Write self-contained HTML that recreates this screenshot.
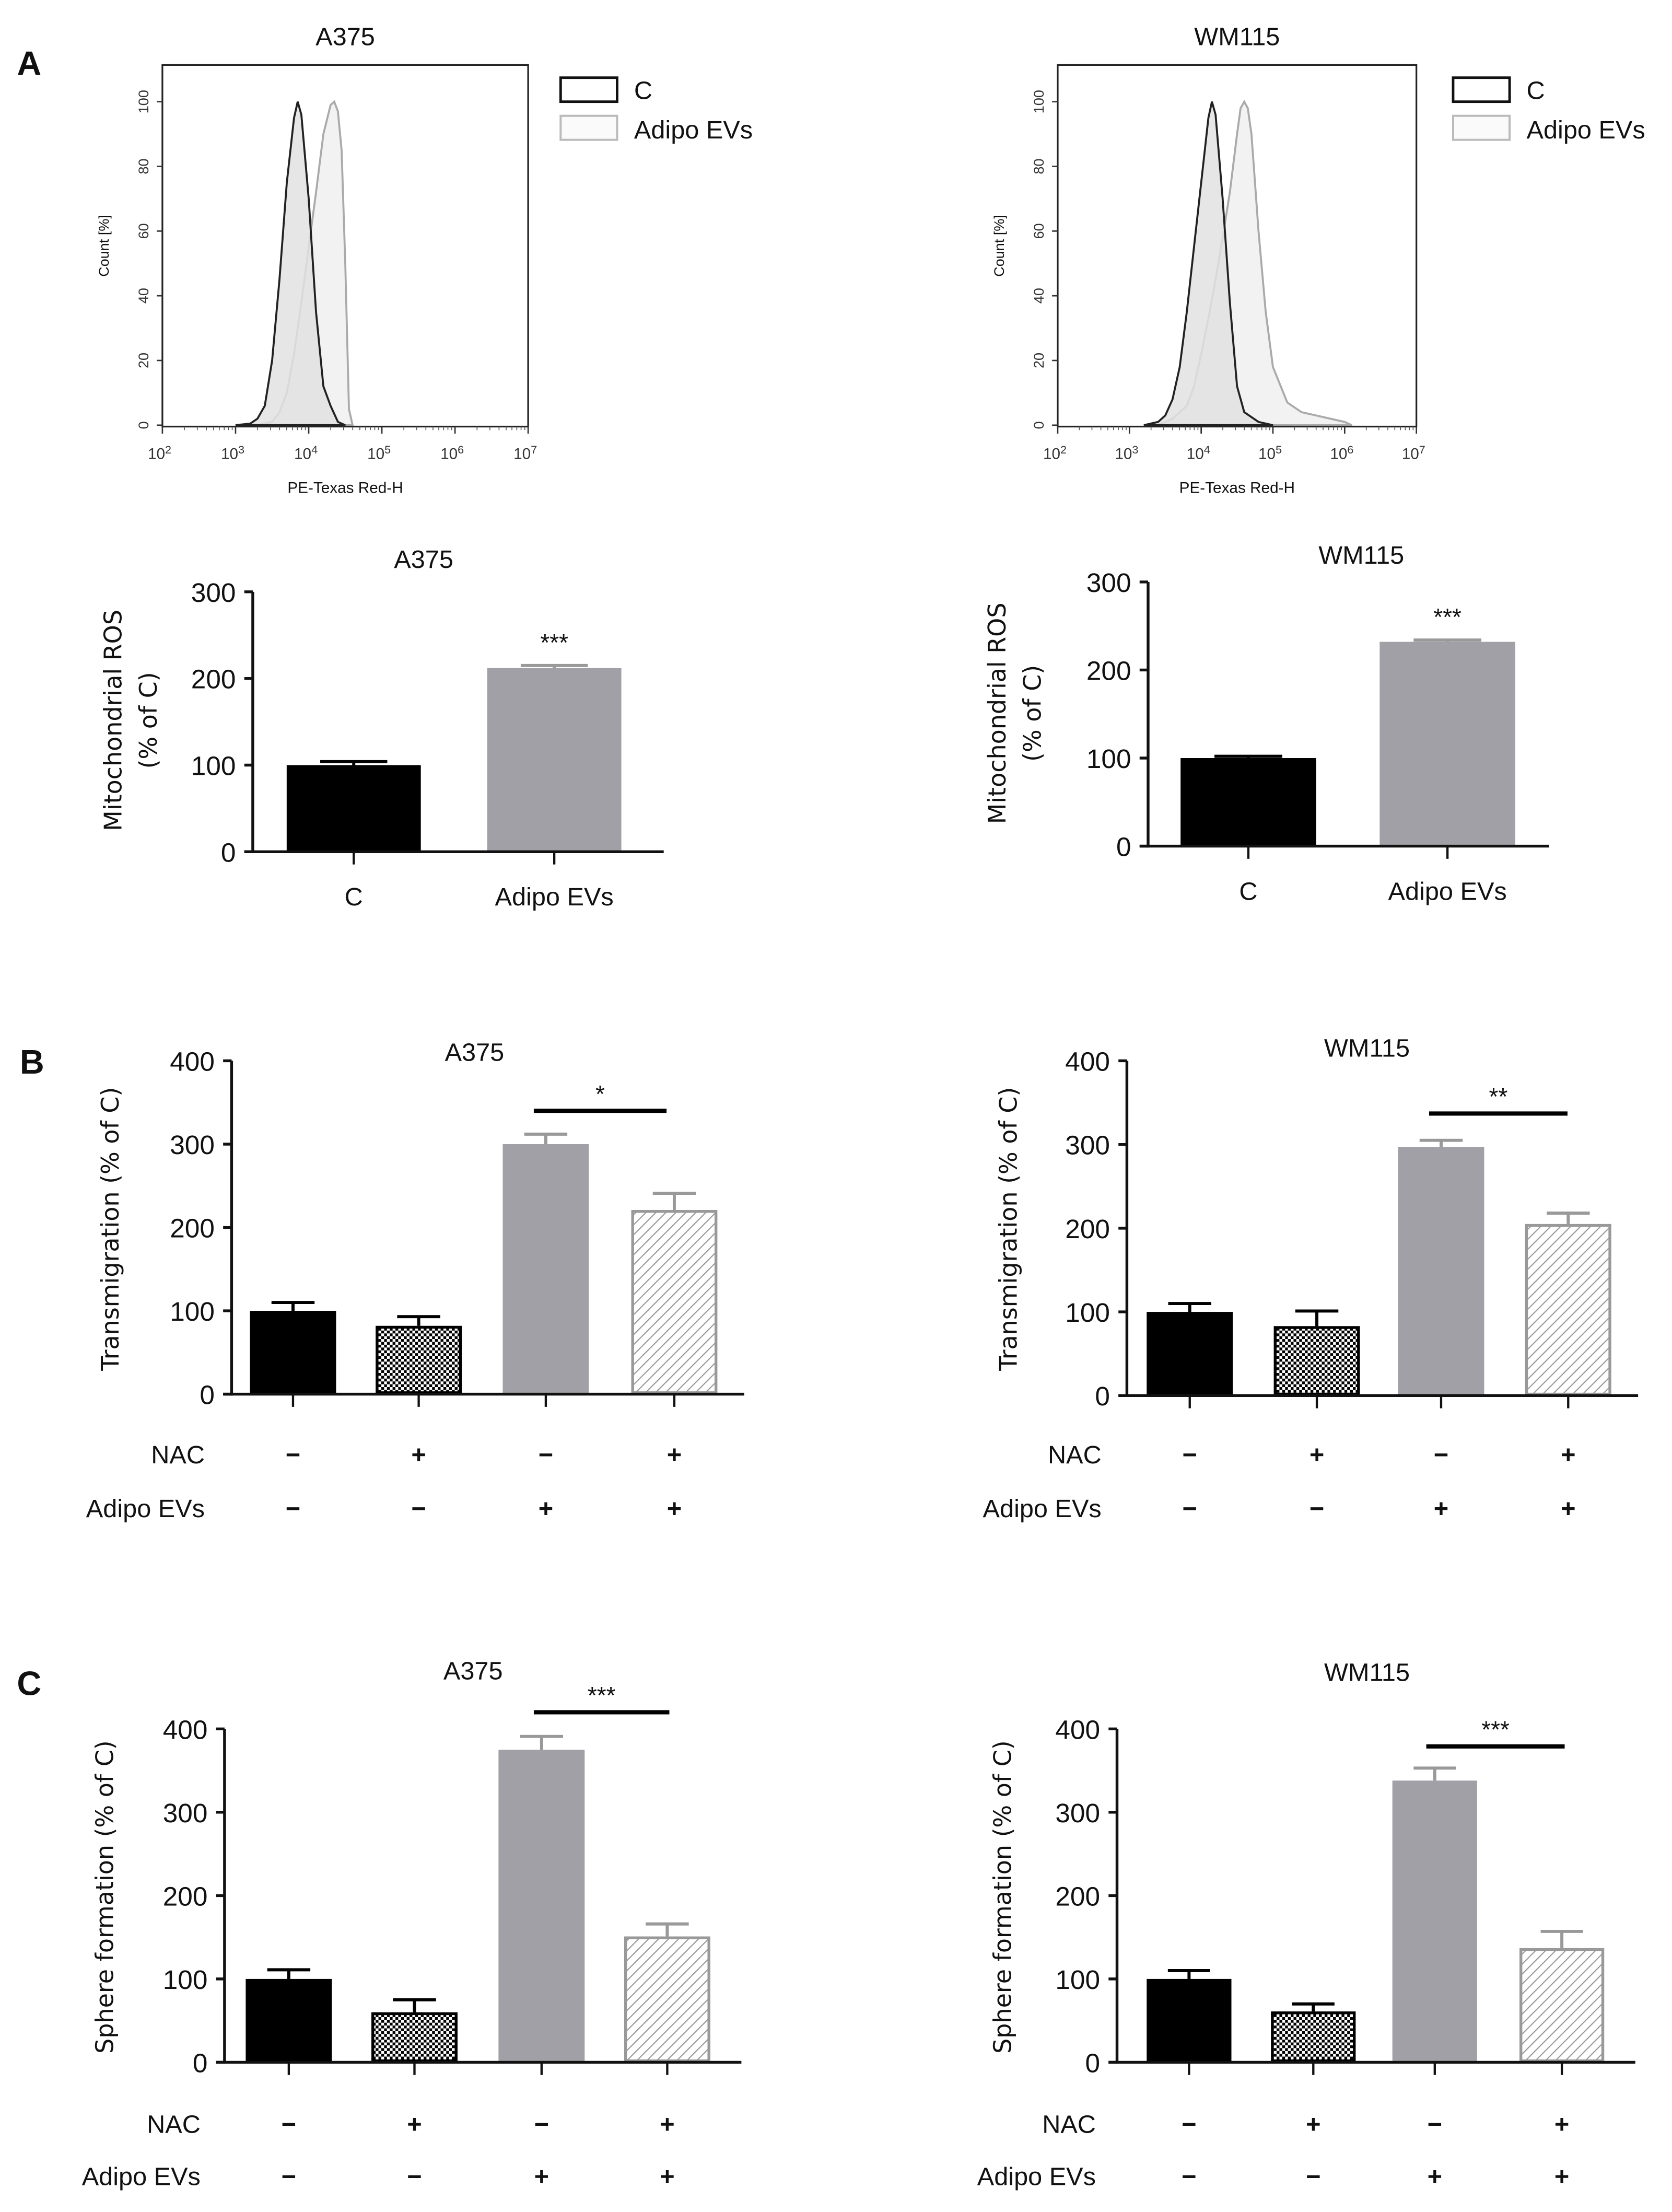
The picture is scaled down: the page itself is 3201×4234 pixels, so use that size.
<!DOCTYPE html>
<html><head><meta charset="utf-8">
<style>
html,body{margin:0;padding:0;background:#fff;}
svg{display:block;}
text{font-family:"Liberation Sans",sans-serif;fill:#111;}
.tick{font-size:19px;}
.yt{font-family:"DejaVu Sans",sans-serif;font-size:17px;}
.hx{font-size:11px;fill:#333;}
.hy{font-size:10px;fill:#333;}
</style></head>
<body>
<svg id="fig" width="3201" height="4234" viewBox="0 0 1184 1566" preserveAspectRatio="none" xmlns="http://www.w3.org/2000/svg">
<defs>
<pattern id="checker" width="4" height="4" patternUnits="userSpaceOnUse">
<rect width="4" height="4" fill="#fff"/><rect width="2" height="2" fill="#000"/><rect x="2" y="2" width="2" height="2" fill="#000"/>
</pattern>
<pattern id="hatch" width="5" height="5" patternUnits="userSpaceOnUse" patternTransform="rotate(45)">
<rect width="5" height="5" fill="#fff"/><line x1="0" y1="0" x2="0" y2="5" stroke="#999" stroke-width="1.6"/>
</pattern>
</defs>
<g id="root"></g>
</svg>
<script>
// ---- Histogram data (log10 fluorescence, count %) ----
const histA375C_x = [3.0,3.2,3.3,3.4,3.5,3.6,3.7,3.8,3.85,3.9,4.0,4.1,4.2,4.3,4.4,4.5];
const histA375C_y = [0,0.5,2,6,20,45,75,95,100,96,70,35,12,6,1,0];
const histA375E_x = [3.3,3.5,3.6,3.7,3.8,3.9,4.0,4.1,4.2,4.3,4.35,4.4,4.45,4.5,4.55,4.6];
const histA375E_y = [0,1,4,10,22,38,55,72,90,99,100,97,85,50,5,0];
const histWMC_x = [3.2,3.4,3.5,3.6,3.7,3.8,3.9,4.0,4.1,4.15,4.2,4.3,4.4,4.5,4.6,4.8,5.0];
const histWMC_y = [0,1,3,8,18,35,55,75,95,100,96,70,38,12,4,1,0];
const histWME_x = [3.4,3.6,3.8,3.9,4.0,4.1,4.2,4.3,4.4,4.5,4.55,4.6,4.65,4.7,4.8,4.9,5.0,5.2,5.4,5.6,5.8,6.0,6.1];
const histWME_y = [0,2,6,12,22,33,45,58,72,90,98,100,98,90,60,35,18,7,4,3,2,1,0];
const histYTicks = [0,20,40,60,80,100];
const histXTicks = [2,3,4,5,6,7];

// ---- ROS bar data ----
const rosCats = ["C","Adipo EVs"];
const rosA375 = [100,212];
const rosA375Err = [104,215];
const rosWM = [100,232];
const rosWMErr = [102,234];
const rosTicks = [0,100,200,300];

// ---- Transmigration data ----
const tmA375 = [100,82,300,221];
const tmA375Err = [110,93,312,241];
const tmWM = [100,83,297,205];
const tmWMErr = [110,101,305,218];
// ---- Sphere formation data ----
const sfA375 = [100,60,375,151];
const sfA375Err = [111,75,391,166];
const sfWM = [100,61,338,137];
const sfWMErr = [110,70,353,157];
const fourTicks = [0,100,200,300,400];
const nacRow = ["−","+","−","+"];
const evRow = ["−","−","+","+"];

const NS="http://www.w3.org/2000/svg";
const root=document.getElementById('root');
function mk(tag,attrs,parent){const e=document.createElementNS(NS,tag);for(const k in attrs)e.setAttribute(k,attrs[k]);(parent||root).appendChild(e);return e;}
function txt(s,attrs,parent){const e=mk('text',attrs,parent);e.textContent=s;return e;}

let L;
L=txt("A",{x:12,y:53,'font-size':24,'font-weight':'bold'});


L=txt("B",{x:14,y:760,'font-size':24,'font-weight':'bold'});


L=txt("C",{x:12,y:1200,'font-size':24,'font-weight':'bold'});



function histogram(name,title,x0,x1,y0,y1,cx,cy,ex,ey,legX){
  const g=mk('g',{});
  
  
  const sx=v=>x0+(v-2)/5*(x1-x0);
  const yb=y1-1, y100=72;
  const sy=v=>yb-(v/100)*(yb-y100);
  const t=txt(title,{x:(x0+x1)/2,y:32,'text-anchor':'middle','font-size':18},g);
  
  
  function curve(xs,ys,fill,stroke,nm){
    let d='M'+sx(xs[0])+','+sy(0);
    for(let i=0;i<xs.length;i++)d+=' L'+sx(xs[i]).toFixed(1)+','+sy(ys[i]).toFixed(1);
    const p=mk('path',{d:d+' Z',fill:fill,'fill-opacity':0.85,stroke:stroke,'stroke-width':1.4},g);
    
    
  }
  curve(ex,ey,'#f0f0f0','#aaa','adipo-evs-histogram');
  curve(cx,cy,'#e2e2e2','#222','control-histogram');
  const box=mk('rect',{x:x0,y:y0,width:x1-x0,height:y1-y0,fill:'none',stroke:'#222','stroke-width':1.2},g);
  
  
  histYTicks.forEach(v=>{
    mk('line',{x1:x0-4,x2:x0,y1:sy(v),y2:sy(v),stroke:'#333'},g);
    const tt=txt(String(v),{x:x0-10,y:sy(v),'text-anchor':'middle',class:'hy',transform:`rotate(-90 ${x0-10} ${sy(v)})`},g);
    
    
  });
  histXTicks.forEach(v=>{
    mk('line',{x1:sx(v),x2:sx(v),y1:y1,y2:y1+5,stroke:'#333'},g);
    for(let k=2;k<10&&v<7;k++){const xx=sx(v+Math.log10(k));mk('line',{x1:xx,x2:xx,y1:y1,y2:y1+2.5,stroke:'#555','stroke-width':0.6},g);}
    const tt=txt('10',{x:sx(v)-2,y:325,'text-anchor':'middle',class:'hx'},g);
    const ts=mk('tspan',{dy:-4,'font-size':8},tt);ts.textContent=String(v);
    
    
  });
  const yl=txt('Count [%]',{x:x0-38,y:(y0+y1)/2,'text-anchor':'middle','font-size':10,fill:'#5a3a20',transform:`rotate(-90 ${x0-38} ${(y0+y1)/2})`},g);
  
  
  const xl=txt('PE-Texas Red-H',{x:(x0+x1)/2,y:349,'text-anchor':'middle','font-size':11,fill:'#4a2a40'},g);
  
  
  const l1=mk('g',{},g);
  
  
  mk('rect',{x:legX,y:55,width:40,height:17,fill:'#fff',stroke:'#111','stroke-width':1.8},l1);
  txt('C',{x:legX+52,y:70,'font-size':18},l1);
  const l2=mk('g',{},g);
  
  
  mk('rect',{x:legX,y:82,width:40,height:17,fill:'#fafafa',stroke:'#bbb','stroke-width':1.5},l2);
  txt('Adipo EVs',{x:legX+52,y:98,'font-size':18},l2);
}
histogram('histogram-a375','A375',115,374,46,302,histA375C_x,histA375C_y,histA375E_x,histA375E_y,397);
histogram('histogram-wm115','WM115',749,1003,46,302,histWMC_x,histWMC_y,histWME_x,histWME_y,1029);

const fills=[{f:'#000',s:'#000'},{f:'url(#checker)',s:'#000'},{f:'#a0a0a6',s:'#a0a0a6'},{f:'url(#hatch)',s:'#999'}];

function barChart(o){
  const g=mk('g',{});
  
  
  const max=o.ticks[o.ticks.length-1];
  const sy=v=>o.yb-(v/max)*(o.yb-o.yt);
  const t=txt(o.title,{x:o.titleX,y:o.titleY,'text-anchor':'middle','font-size':18},g);
  
  
  o.vals.forEach((v,i)=>{
    const c=o.fills[i];
    const x=o.bx[i],w=o.bw;
    const cx=x+w/2;
    const ec=(c.s==='#000')?'#000':'#999';
    const el=mk('line',{x1:cx,x2:cx,y1:sy(v),y2:sy(o.errs[i]),stroke:ec,'stroke-width':2.2},g);
    
    
    const ec2=mk('line',{x1:cx-w*0.25,x2:cx+w*0.25,y1:sy(o.errs[i]),y2:sy(o.errs[i]),stroke:ec,'stroke-width':2.2},g);
    
    
    const sw=c.f.startsWith('url')?2:0;
    const r=mk('rect',{x:x+sw/2,y:sy(v)+sw/2,width:w-sw,height:sy(0)-sy(v)-sw,fill:c.f,stroke:c.s,'stroke-width':sw||0},g);
    
    
    mk('line',{x1:cx,x2:cx,y1:o.yb,y2:o.yb+9,stroke:'#111','stroke-width':1.6},g);
  });
  const ax=mk('line',{x1:o.ax,x2:o.ax,y1:o.yt,y2:o.yb+1,stroke:'#111','stroke-width':2},g);
  
  
  const xa=mk('line',{x1:o.ax-6,x2:o.xEnd,y1:o.yb,y2:o.yb,stroke:'#111','stroke-width':2},g);
  
  
  o.ticks.forEach(v=>{
    mk('line',{x1:o.ax-6,x2:o.ax,y1:sy(v),y2:sy(v),stroke:'#111','stroke-width':2},g);
    const tt=txt(String(v),{x:o.ax-12,y:sy(v)+7,'text-anchor':'end',class:'tick'},g);
    
    
  });
  o.ytitle.forEach((s,k)=>{
    const x=o.ytx+k*25;
    const tt=txt(s,{x:x,y:o.yty,'text-anchor':'middle',class:'yt',transform:`rotate(-90 ${x} ${o.yty})`},g);
    
    
  });
  if(o.cats){
    o.cats.forEach((s,i)=>{
      const tt=txt(s,{x:o.bx[i]+o.bw/2,y:o.catY,'text-anchor':'middle','font-size':18},g);
      
      
    });
  }
  if(o.rows){
    [[ 'NAC',nacRow,o.rowY[0]],['Adipo EVs',evRow,o.rowY[1]]].forEach(([lab,row,y])=>{
      const tt=txt(lab,{x:o.rowLabX,y:y+6,'text-anchor':'end','font-size':18},g);
      
      
      row.forEach((s,i)=>{
        const cx=o.bx[i]+o.bw/2;
        const m=txt(s,{x:cx,y:y+6,'text-anchor':'middle','font-size':18,'font-weight':'bold'},g);
        
        
      });
    });
  }
  if(o.sig){
    const s=o.sig;
    if(s.line){
      const ln=mk('line',{x1:s.x1,x2:s.x2,y1:sy(s.v),y2:sy(s.v),stroke:'#000','stroke-width':3},g);
      
      
    }
    const st=txt(s.label,{x:(s.x1+s.x2)/2,y:sy(s.v)-6,'text-anchor':'middle','font-size':17},g);
    
    
  }
}

barChart({name:'ros-chart-a375',title:'A375',titleX:300,titleY:402,vals:rosA375,errs:rosA375Err,ticks:rosTicks,
  fills:[fills[0],fills[2]],bx:[203,345],bw:95,ax:179,yt:419,yb:603,xEnd:470,
  ytitle:['Mitochondrial ROS','(% of C)'],ytx:86,yty:510,cats:rosCats,catY:641,
  sig:{x1:345,x2:440,v:rosA375Err[1]+7,label:'***'}});
barChart({name:'ros-chart-wm115',title:'WM115',titleX:964,titleY:399,vals:rosWM,errs:rosWMErr,ticks:rosTicks,
  fills:[fills[0],fills[2]],bx:[836,977],bw:96,ax:813,yt:412,yb:599,xEnd:1097,
  ytitle:['Mitochondrial ROS','(% of C)'],ytx:712,yty:505,cats:rosCats,catY:637,
  sig:{x1:977,x2:1073,v:rosWMErr[1]+7,label:'***'}});

barChart({name:'transmigration-chart-a375',title:'A375',titleX:336,titleY:751,vals:tmA375,errs:tmA375Err,ticks:fourTicks,
  fills:fills,bx:[177,266,356,447],bw:61,ax:164,yt:751,yb:987,xEnd:527,
  ytitle:['Transmigration (% of C)'],ytx:84,yty:870,rows:true,rowY:[1030,1068],rowLabX:145,
  sig:{x1:378,x2:472,v:340,label:'*',line:true}});
barChart({name:'transmigration-chart-wm115',title:'WM115',titleX:968,titleY:748,vals:tmWM,errs:tmWMErr,ticks:fourTicks,
  fills:fills,bx:[812,902,990,1080],bw:61,ax:798,yt:751,yb:988,xEnd:1160,
  ytitle:['Transmigration (% of C)'],ytx:720,yty:870,rows:true,rowY:[1030,1068],rowLabX:780,
  sig:{x1:1012,x2:1110,v:337,label:'**',line:true}});

barChart({name:'sphere-chart-a375',title:'A375',titleX:335,titleY:1189,vals:sfA375,errs:sfA375Err,ticks:fourTicks,
  fills:fills,bx:[174,263,353,442],bw:61,ax:159,yt:1224,yb:1460,xEnd:525,
  ytitle:['Sphere formation (% of C)'],ytx:80,yty:1343,rows:true,rowY:[1504,1541],rowLabX:142,
  sig:{x1:378,x2:474,v:420,label:'***',line:true}});
barChart({name:'sphere-chart-wm115',title:'WM115',titleX:968,titleY:1190,vals:sfWM,errs:sfWMErr,ticks:fourTicks,
  fills:fills,bx:[812,900,986,1076],bw:60,ax:791,yt:1224,yb:1460,xEnd:1158,
  ytitle:['Sphere formation (% of C)'],ytx:716,yty:1343,rows:true,rowY:[1504,1541],rowLabX:776,
  sig:{x1:1010,x2:1108,v:379,label:'***',line:true}});
</script>
</body></html>
